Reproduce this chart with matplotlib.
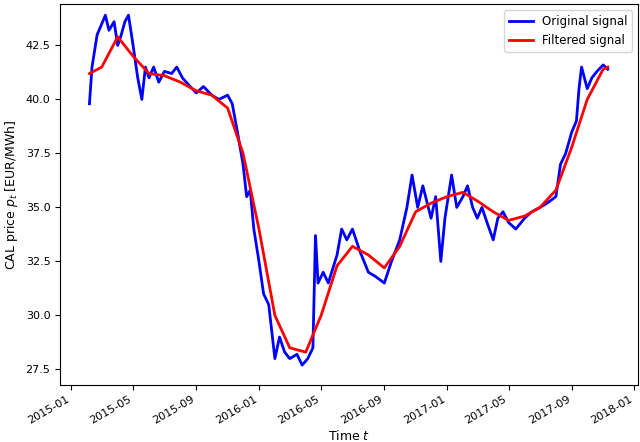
import matplotlib
matplotlib.use("Agg")
import matplotlib.pyplot as plt
import matplotlib.dates as mdates
import pandas as pd

orig_dates = ["2015-02-05","2015-02-10","2015-02-20","2015-03-01","2015-03-08","2015-03-15","2015-03-25","2015-04-01","2015-04-08","2015-04-15","2015-04-22","2015-05-01","2015-05-10","2015-05-18","2015-05-25","2015-06-01","2015-06-10","2015-06-20","2015-07-01","2015-07-15","2015-07-25","2015-08-05","2015-08-20","2015-09-01","2015-09-15","2015-10-01","2015-10-15","2015-11-01","2015-11-10","2015-11-20","2015-12-01","2015-12-08","2015-12-15","2015-12-22","2016-01-01","2016-01-10","2016-01-20","2016-02-01","2016-02-10","2016-02-20","2016-03-01","2016-03-15","2016-03-25","2016-04-05","2016-04-15","2016-04-20","2016-04-25","2016-05-05","2016-05-15","2016-06-01","2016-06-10","2016-06-20","2016-07-01","2016-07-15","2016-08-01","2016-08-15","2016-09-01","2016-09-15","2016-10-01","2016-10-15","2016-10-25","2016-11-05","2016-11-15","2016-12-01","2016-12-10","2016-12-20","2016-12-28","2017-01-10","2017-01-20","2017-02-01","2017-02-10","2017-02-20","2017-03-01","2017-03-10","2017-03-20","2017-04-01","2017-04-10","2017-04-20","2017-05-01","2017-05-15","2017-06-01","2017-06-15","2017-07-01","2017-07-15","2017-08-01","2017-08-10","2017-08-20","2017-09-01","2017-09-10","2017-09-15","2017-09-20","2017-10-01","2017-10-10","2017-10-20","2017-11-01","2017-11-10"]
orig_vals = [39.8,41.5,43.0,43.5,43.9,43.2,43.6,42.5,43.0,43.6,43.9,42.5,41.0,40.0,41.5,41.0,41.5,40.8,41.3,41.2,41.5,41.0,40.6,40.3,40.6,40.2,40.0,40.2,39.8,38.5,37.0,35.5,35.8,34.0,32.5,31.0,30.5,28.0,29.0,28.3,28.0,28.2,27.7,28.0,28.5,33.7,31.5,32.0,31.5,32.8,34.0,33.5,34.0,33.0,32.0,31.8,31.5,32.5,33.5,35.0,36.5,35.0,36.0,34.5,35.5,32.5,34.5,36.5,35.0,35.5,36.0,35.0,34.5,35.0,34.3,33.5,34.5,34.8,34.3,34.0,34.5,34.8,35.0,35.2,35.5,37.0,37.5,38.5,39.0,40.5,41.5,40.5,41.0,41.3,41.6,41.4]

filt_dates = ["2015-02-05","2015-03-01","2015-04-01","2015-05-01","2015-06-01","2015-07-01","2015-08-01","2015-09-01","2015-10-01","2015-11-01","2015-12-01","2016-01-01","2016-02-01","2016-03-01","2016-04-01","2016-05-01","2016-06-01","2016-07-01","2016-08-01","2016-09-01","2016-10-01","2016-11-01","2016-12-01","2017-01-01","2017-02-01","2017-03-01","2017-04-01","2017-05-01","2017-06-01","2017-07-01","2017-08-01","2017-09-01","2017-10-01","2017-11-01","2017-11-10"]
filt_vals = [41.2,41.5,42.9,42.0,41.2,41.1,40.8,40.4,40.2,39.6,37.5,34.0,30.0,28.5,28.3,30.0,32.3,33.2,32.8,32.2,33.2,34.8,35.2,35.5,35.7,35.3,34.8,34.4,34.6,35.0,35.8,37.8,40.0,41.4,41.5]

fig = plt.figure(figsize=(6.4, 4.42), dpi=100)
ax = fig.add_axes([0.094, 0.13, 0.903, 0.86])
ax.plot(pd.to_datetime(orig_dates), orig_vals, color="blue", lw=2, label="Original signal")
ax.plot(pd.to_datetime(filt_dates), filt_vals, color="red", lw=2, label="Filtered signal")
ax.set_xlim(pd.Timestamp("2014-12-10"), pd.Timestamp("2018-01-08"))
ax.set_ylim(26.8, 44.4)
ax.set_yticks([27.5,30.0,32.5,35.0,37.5,40.0,42.5])
ax.xaxis.set_major_locator(mdates.MonthLocator(bymonth=[1,5,9]))
ax.xaxis.set_major_formatter(mdates.DateFormatter("%Y-%m"))
for lab in ax.get_xticklabels():
    lab.set_rotation(30); lab.set_ha("right")
ax.tick_params(labelsize=8)
ax.set_xlabel("Time $t$", fontsize=9, labelpad=2)
ax.set_ylabel("CAL price $p_t$ [EUR/MWh]", fontsize=9)
ax.legend(loc="upper right", fontsize=8.5)
fig.savefig("out.png", dpi=100)
